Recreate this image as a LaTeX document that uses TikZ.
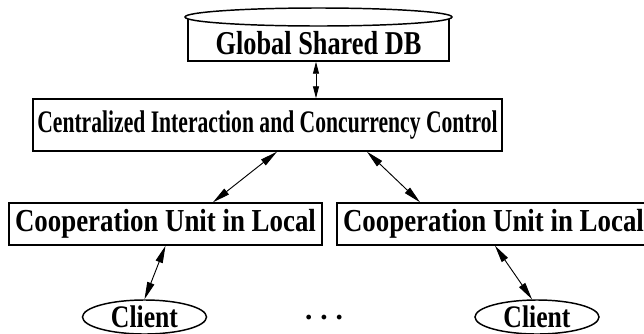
\documentclass[tikz,border=0pt]{standalone}
\usepackage{fontspec}
\usepackage{graphicx}
\setmainfont{Liberation Serif}
\usetikzlibrary{arrows.meta,calc,shapes.geometric}
% horizontally condensed bold label: #1 = size in pt, #2 = horizontal scale, #3 = text
\newcommand{\condlabel}[3]{\scalebox{#2}[1]{\bfseries\fontsize{#1}{#1}\selectfont #3}}
\begin{document}
\begin{tikzpicture}[x=0.75pt,y=-0.75pt,
  box/.style={draw, line width=1.1pt, inner sep=0pt},
  oval/.style={draw, ellipse, line width=1.1pt, inner sep=0pt},
  link/.style={line width=0.7pt, {Triangle[length=13pt,width=5.5pt]}-{Triangle[length=13pt,width=5.5pt]}},
  shortlink/.style={line width=0.7pt, {Triangle[length=9pt,width=4.5pt]}-{Triangle[length=9pt,width=4.5pt]}}
]
\useasboundingbox (0,0) rectangle (644,333);
\clip (0,0) rectangle (644,333);

% shared database drawn as a cylinder: box with an oval lid
\node[box, minimum width=195.75pt, minimum height=33pt] (db) at (318.5,39) {};
\node[oval, fill=white, minimum width=200.25pt, minimum height=13.5pt] (dbtop) at (318.5,17) {};
\node[inner sep=0pt] (dblabel) at (318.5,43) {\condlabel{25}{0.79}{Global Shared DB}};

% central control
\node[box, minimum width=351.75pt, minimum height=39pt] (central) at (267.5,125)
  {\condlabel{23.5}{0.69}{Centralized Interaction and Concurrency Control}};

% local cooperation units
\node[box, minimum width=234.75pt, minimum height=31.5pt] (lcoop) at (165.5,224)
  {\condlabel{24}{0.84}{Cooperation Unit in Local}};
\node[box, minimum width=234.75pt, minimum height=31.5pt] (rcoop) at (493.5,224)
  {\condlabel{24}{0.84}{Cooperation Unit in Local}};

% clients
\node[oval, minimum width=93pt, minimum height=25.5pt] (lclient) at (144.5,317)
  {\condlabel{23.5}{0.82}{Client}};
\node[oval, minimum width=93pt, minimum height=25.5pt] (rclient) at (537,317)
  {\condlabel{23.5}{0.82}{Client}};
\node[inner sep=0pt] (dots) at (324,318) {\condlabel{22}{1}{.\hspace{6pt}.\hspace{6pt}.}};

% connectors
\draw[shortlink] ($(db.south)+(-2.5,0)$) -- ($(central.north)+(48.5,0)$);
\draw[link] ($(central.south)+(9.5,0)$) -- ($(lcoop.north)+(47.5,0)$);
\draw[link] ($(central.south)+(99.5,0)$) -- ($(rcoop.north)+(-73.5,0)$);
\draw[link] (lcoop.south) -- (lclient.north);
\draw[link] ($(rcoop.south)+(1.5,0)$) -- ($(rclient.north)+(-5,0)$);
\end{tikzpicture}
\end{document}
